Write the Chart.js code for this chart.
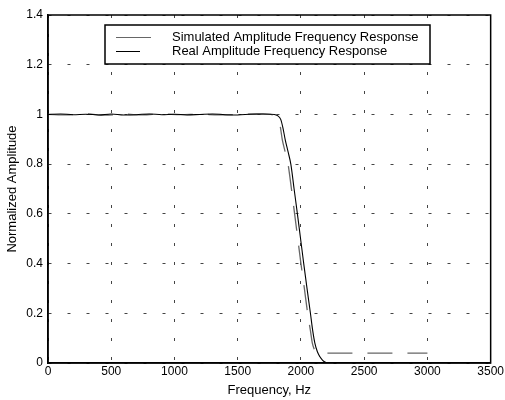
<!DOCTYPE html>
<html>
<head>
<meta charset="utf-8">
<script src="https://cdn.jsdelivr.net/npm/chart.js@4"></script>
<style>
  html, body { margin: 0; padding: 0; background: #fff; }
  #wrap { width: 505px; height: 400px; }
</style>
</head>
<body>
<div id="wrap"><canvas id="freqChart" width="505" height="400"></canvas></div>
<script>
// values
const simFreq = [0, 150, 300, 450, 600, 750, 900, 1050, 1200, 1350, 1500, 1650, 1760, 1790, 1815, 1835, 1852, 1875, 1898, 1925, 1950, 1975, 2000, 2027, 2053, 2075, 2090, 2105, 2120, 2135, 2200, 2400, 2600, 2800, 3000];
const simAmp = [1.0, 0.998, 1.002, 0.997, 1.001, 0.998, 1.002, 0.999, 1.001, 0.998, 1.0, 1.002, 1.0, 0.995, 0.98, 0.955, 0.9, 0.85, 0.8, 0.7, 0.6, 0.5, 0.4, 0.3, 0.2, 0.13, 0.08, 0.055, 0.043, 0.04, 0.04, 0.04, 0.04, 0.04, 0.04];

const realFreq = [0, 100, 200, 300, 400, 500, 600, 700, 800, 900, 1000, 1100, 1200, 1300, 1400, 1500, 1600, 1700, 1790, 1815, 1840, 1858, 1875, 1898, 1920, 1946, 1972, 1997, 2022, 2048, 2075, 2093, 2110, 2130, 2150, 2170, 2190, 2210, 2300, 3000];
const realAmp = [1.0, 1.002, 0.999, 1.001, 0.998, 1.002, 0.998, 0.999, 1.002, 0.999, 1.001, 0.998, 1.0, 1.002, 0.999, 0.998, 1.001, 1.002, 1.0, 0.995, 0.98, 0.945, 0.9, 0.85, 0.8, 0.7, 0.6, 0.5, 0.4, 0.3, 0.2, 0.13, 0.08, 0.045, 0.025, 0.012, 0.004, 0, 0, 0];

const seriesLabels = ["Simulated Amplitude Frequency Response", "Real Amplitude Frequency Response"];
const xTitle = "Frequency, Hz";
const yTitle = "Normalized Amplitude";

function toPoints(xs, ys) {
    return xs.map((x, i) => ({ x: x, y: ys[i] }));
}

const FONT = "'Liberation Sans', Arial, sans-serif";

// box round the plot area
const boxPlugin = {
    id: "box",
    afterDatasetsDraw(chart) {
        const a = chart.chartArea;
        const ctx = chart.ctx;
        ctx.save();
        ctx.strokeStyle = "#000";
        ctx.lineWidth = 1.5;
        ctx.strokeRect(a.left, a.top, a.right - a.left, a.bottom - a.top);
        ctx.restore();
    }
};

// matlab style legend box inside the axes
const legendBox = {
    id: "legendBox",
    afterDraw(chart) {
        const ctx = chart.ctx;
        const ds = chart.data.datasets;
        ctx.save();
        ctx.fillStyle = "#fff";
        ctx.fillRect(105, 25, 325, 39);
        ctx.strokeStyle = "#000";
        ctx.lineWidth = 1.5;
        ctx.strokeRect(105, 25, 325, 39);

        const rows = [
            { y: 37.5, len: 35 },
            { y: 51.5, len: 24 }
        ];
        ctx.font = "13px " + FONT;
        ctx.textBaseline = "middle";
        rows.forEach((r, i) => {
            ctx.strokeStyle = ds[i].borderColor;
            ctx.lineWidth = 1;
            ctx.beginPath();
            ctx.moveTo(116, r.y);
            ctx.lineTo(116 + r.len, r.y);
            ctx.stroke();
            ctx.fillStyle = "#000";
            ctx.fillText(ds[i].label, 172, r.y - 0.5);
        });
        ctx.restore();
    }
};

new Chart(document.getElementById("freqChart"), {
    type: "line",
    data: {
        datasets: [{
            label: seriesLabels[0],
            data: toPoints(simFreq, simAmp),
            borderColor: "#666",
            borderWidth: 1.3,
            borderDash: [25, 15],
            pointRadius: 0,
            cubicInterpolationMode: "monotone",
            fill: false,
            order: 2
        }, {
            label: seriesLabels[1],
            data: toPoints(realFreq, realAmp),
            borderColor: "#000",
            borderWidth: 1.1,
            pointRadius: 0,
            cubicInterpolationMode: "monotone",
            fill: false,
            order: 1
        }]
    },
    options: {
        responsive: false,
        animation: false,
        maintainAspectRatio: false,
        layout: { padding: { top: 15, right: 14, left: 0, bottom: 0 } },
        plugins: {
            legend: { display: false },
            tooltip: { enabled: false }
        },
        scales: {
            x: {
                type: "linear",
                min: 0,
                max: 3500,
                afterFit(scale) { scale.height = 37; },
                ticks: {
                    stepSize: 500,
                    color: "#000",
                    padding: 1,
                    maxRotation: 0,
                    font: { family: FONT, size: 12 },
                    callback: v => String(v)
                },
                grid: {
                    color: "#444",
                    lineWidth: 1,
                    drawTicks: false
                },
                border: { display: true, color: "#000", width: 1.5, dash: [3, 16] },
                title: {
                    display: true,
                    text: xTitle,
                    color: "#000",
                    padding: { top: 0, bottom: 2 },
                    font: { family: FONT, size: 13 }
                }
            },
            y: {
                min: 0,
                max: 1.4,
                afterFit(scale) { scale.width = 48; },
                ticks: {
                    stepSize: 0.2,
                    color: "#000",
                    padding: 5,
                    font: { family: FONT, size: 12 },
                    callback: v => String(+v.toFixed(1))
                },
                grid: {
                    color: "#444",
                    lineWidth: 1,
                    drawTicks: false
                },
                border: { display: true, color: "#000", width: 1.5, dash: [3, 16] },
                title: {
                    display: true,
                    text: yTitle,
                    color: "#000",
                    padding: { top: 5, bottom: 0 },
                    font: { family: FONT, size: 13 }
                }
            }
        }
    },
    plugins: [boxPlugin, legendBox]
});
</script>
</body>
</html>
